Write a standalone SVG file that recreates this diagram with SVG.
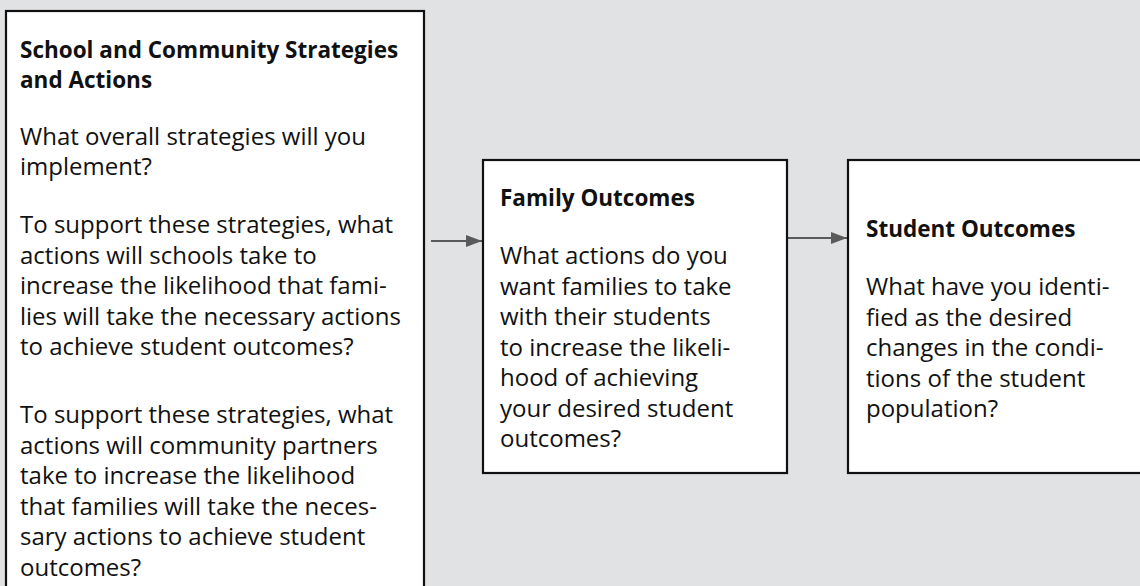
<svg xmlns="http://www.w3.org/2000/svg" width="1140" height="586" viewBox="0 0 1140 586">
<defs>
<style>
.bg{fill:#e1e2e4}
.box{fill:#ffffff;stroke:#111111;stroke-width:2.2}
.t{font-family:"Open Sans","Noto Sans","Liberation Sans",sans-serif;font-size:24px;fill:#111111}
.h{font-weight:bold;font-size:22.5px}
.conn{stroke:#5a5a5a;stroke-width:2;fill:none}
</style>
<marker id="ah" markerUnits="userSpaceOnUse" markerWidth="16" markerHeight="12" refX="16" refY="6" orient="auto">
<path d="M0,0 L16,6 L0,12 Z" fill="#5a5a5a"/>
</marker>
</defs>
<rect class="bg" x="0" y="0" width="1140" height="586"/>
<g id="connectors">
<line class="conn" x1="431" y1="241" x2="482" y2="241" marker-end="url(#ah)"/>
<line class="conn" x1="788" y1="238" x2="847" y2="238" marker-end="url(#ah)"/>
</g>
<g id="node-school">
<rect class="box" x="6" y="11" width="418" height="600"/>
<text class="t h" x="20" y="58">School and Community Strategies</text>
<text class="t h" x="20" y="88">and Actions</text>
<text class="t" x="20" y="145">What overall strategies will you</text>
<text class="t" x="20" y="175">implement?</text>
<text class="t" x="20" y="233">To support these strategies, what</text>
<text class="t" x="20" y="264">actions will schools take to</text>
<text class="t" x="20" y="294">increase the likelihood that fami-</text>
<text class="t" x="20" y="325">lies will take the necessary actions</text>
<text class="t" x="20" y="355">to achieve student outcomes?</text>
<text class="t" x="20" y="423">To support these strategies, what</text>
<text class="t" x="20" y="454">actions will community partners</text>
<text class="t" x="20" y="484">take to increase the likelihood</text>
<text class="t" x="20" y="515">that families will take the neces-</text>
<text class="t" x="20" y="545">sary actions to achieve student</text>
<text class="t" x="20" y="576">outcomes?</text>
</g>
<g id="node-family">
<rect class="box" x="483" y="160" width="304" height="313"/>
<text class="t h" x="500" y="206">Family Outcomes</text>
<text class="t" x="500" y="264">What actions do you</text>
<text class="t" x="500" y="295">want families to take</text>
<text class="t" x="500" y="325">with their students</text>
<text class="t" x="500" y="356">to increase the likeli-</text>
<text class="t" x="500" y="386">hood of achieving</text>
<text class="t" x="500" y="417">your desired student</text>
<text class="t" x="500" y="447">outcomes?</text>
</g>
<g id="node-student">
<rect class="box" x="848" y="160" width="300" height="313"/>
<text class="t h" x="866" y="237">Student Outcomes</text>
<text class="t" x="866" y="295">What have you identi-</text>
<text class="t" x="866" y="326">fied as the desired</text>
<text class="t" x="866" y="356">changes in the condi-</text>
<text class="t" x="866" y="387">tions of the student</text>
<text class="t" x="866" y="417">population?</text>
</g>
</svg>
